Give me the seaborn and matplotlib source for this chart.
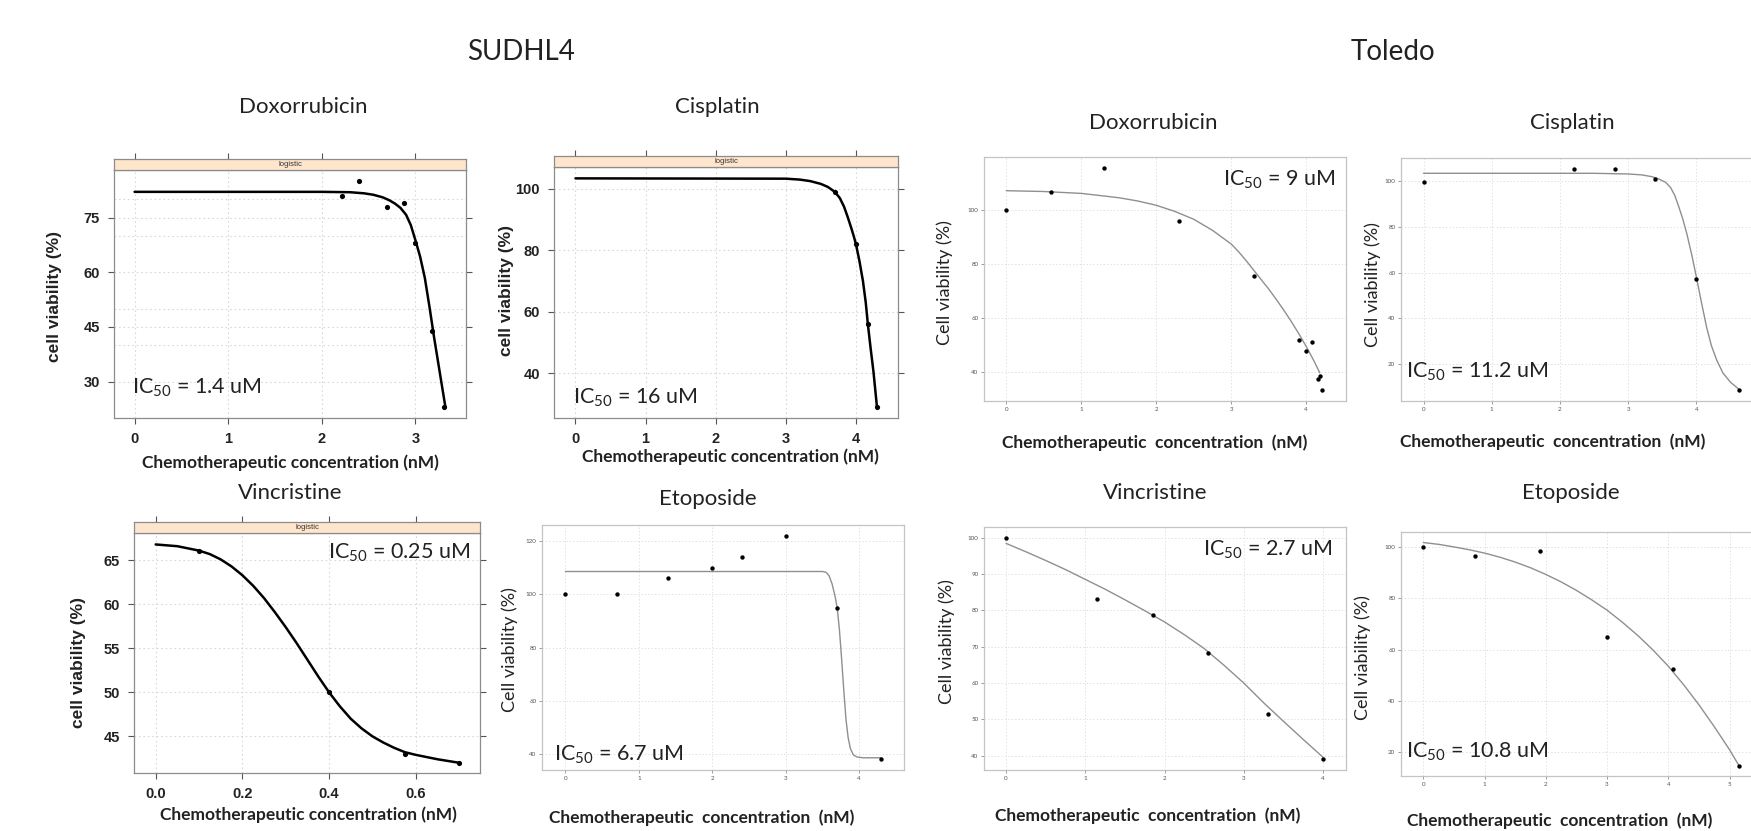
import matplotlib
matplotlib.use("Agg")
import matplotlib.pyplot as plt
from matplotlib.ticker import MultipleLocator
import seaborn as sns

# ---------------- values ----------------
cell_lines = ["SUDHL4", "Toledo"]

# SUDHL4 (lattice style plots)
sud_dox_x = [2.22, 2.40, 2.70, 2.88, 3.00, 3.18, 3.30]
sud_dox_y = [80.9, 85.0, 77.9, 79.0, 68.0, 44.0, 23.0]
sud_dox_fit_x = [0, 2.0, 2.3, 2.45, 2.55, 2.65, 2.72, 2.78, 2.84, 2.9, 2.95, 3.0, 3.05, 3.1, 3.15, 3.2, 3.26, 3.32]
sud_dox_fit_y = [82.1, 82.1, 82.0, 81.7, 81.3, 80.6, 79.8, 78.9, 77.7, 75.8, 73.0, 68.8, 64.3, 58.5, 50.5, 42.0, 32.5, 23.0]

sud_cis_x = [3.70, 4.00, 4.17, 4.30]
sud_cis_y = [98.9, 82.1, 56.0, 29.0]
sud_cis_fit_x = [0, 3.0, 3.2, 3.35, 3.5, 3.6, 3.7, 3.77, 3.83, 3.88, 3.93, 3.97, 4.0, 4.05, 4.1, 4.14, 4.17, 4.21, 4.25, 4.3]
sud_cis_fit_y = [103.4, 103.3, 103.0, 102.5, 101.6, 100.6, 99.0, 97.0, 94.2, 91.0, 87.5, 84.5, 82.0, 76.5, 70.0, 63.0, 56.0, 48.0, 40.5, 29.0]

sud_vin_x = [0.10, 0.40, 0.575, 0.70]
sud_vin_y = [66.1, 50.0, 43.0, 42.0]
sud_vin_fit_x = [0, 0.05, 0.1, 0.125, 0.15, 0.175, 0.2, 0.225, 0.25, 0.275, 0.3, 0.325, 0.35,
                 0.375, 0.4, 0.425, 0.45, 0.475, 0.5, 0.525, 0.55, 0.575, 0.6, 0.65, 0.7]
sud_vin_fit_y = [66.8, 66.6, 66.1, 65.7, 65.1, 64.3, 63.3, 62.1, 60.7, 59.1, 57.4, 55.6, 53.7,
                 51.8, 50.0, 48.4, 47.0, 45.9, 45.0, 44.3, 43.7, 43.2, 42.9, 42.4, 42.0]

sud_eto_x = [0, 0.7, 1.4, 2.0, 2.4, 3.0, 3.7, 4.3]
sud_eto_y = [100, 100, 106, 110, 113.9, 122, 95, 38]
sud_eto_fit_x = [0, 3.5, 3.55, 3.59, 3.63, 3.67, 3.7, 3.73, 3.76, 3.79, 3.82, 3.85, 3.88, 3.92, 3.97, 4.05, 4.3]
sud_eto_fit_y = [108.6, 108.6, 108.3, 107.0, 104.0, 99.5, 95.0, 87.0, 76.0, 64.0, 53.0, 46.0, 42.0, 39.6, 38.8, 38.5, 38.5]

# Toledo
tol_dox_x = [0, 0.6, 1.3, 2.3, 3.3, 3.9, 4.0, 4.08, 4.15, 4.18, 4.21]
tol_dox_y = [100, 106.8, 115.7, 96.2, 75.6, 52.0, 47.8, 51.3, 37.6, 38.5, 33.3]
tol_dox_fit_x = [0, 0.5, 1.0, 1.5, 1.75, 2.0, 2.25, 2.5, 2.75, 3.0, 3.1, 3.2, 3.3, 3.4, 3.5,
                 3.6, 3.7, 3.8, 3.9, 4.0, 4.1, 4.18]
tol_dox_fit_y = [107.3, 107.0, 106.3, 104.7, 103.5, 101.9, 99.6, 96.7, 92.6, 87.5, 84.6, 81.3, 77.8, 74.3, 70.8,
                 67.0, 63.0, 58.8, 54.3, 49.5, 44.3, 39.8]

tol_cis_x = [0, 2.2, 2.8, 3.4, 4.0, 4.62]
tol_cis_y = [99.9, 105.6, 105.2, 101.0, 57.4, 8.6]
tol_cis_fit_x = [0, 2.5, 3.0, 3.2, 3.35, 3.45, 3.55, 3.62, 3.68, 3.74, 3.8, 3.86, 3.93, 4.0,
                 4.07, 4.15, 4.22, 4.3, 4.39, 4.5, 4.62]
tol_cis_fit_y = [103.5, 103.5, 103.2, 102.8, 102.0, 101.0, 99.5, 97.3, 94.0, 89.0, 83.5, 77.0, 68.0, 58.0,
                 47.5, 36.0, 28.0, 21.5, 16.0, 12.0, 9.0]

tol_vin_x = [0, 1.15, 1.85, 2.55, 3.3, 4.0]
tol_vin_y = [100, 83.2, 78.8, 68.4, 51.4, 39.1]
tol_vin_fit_x = [0, 0.25, 0.5, 0.75, 1.0, 1.25, 1.5, 1.75, 2.0, 2.25, 2.5, 2.75, 3.0, 3.25, 3.5, 3.75, 4.0]
tol_vin_fit_y = [98.4, 96.1, 93.7, 91.2, 88.5, 85.8, 82.9, 79.9, 76.8, 73.3, 69.5, 64.9, 60.0, 54.6, 49.5, 44.5, 39.6]

tol_eto_x = [0, 0.84, 1.9, 3.0, 4.08, 5.15]
tol_eto_y = [100, 96.4, 98.4, 65.0, 52.6, 14.8]
tol_eto_fit_x = [0, 0.25, 0.5, 0.75, 1.0, 1.25, 1.5, 1.75, 2.0, 2.25, 2.5, 2.75, 3.0, 3.25, 3.5,
                 3.75, 4.0, 4.25, 4.5, 4.75, 5.0, 5.15]
tol_eto_fit_y = [101.6, 100.9, 99.9, 98.8, 97.5, 95.9, 94.0, 91.8, 89.2, 86.3, 83.0, 79.3, 75.3, 70.6, 65.5,
                 59.8, 53.5, 46.3, 38.5, 30.0, 21.0, 15.0]

ic50_values = ["1.4", "16", "0.25", "6.7", "9", "11.2", "2.7", "10.8"]

# ---------------- style ----------------
sns.set_theme(style="white")
plt.rcParams["font.family"] = ["Lato", "DejaVu Sans"]
plt.rcParams["mathtext.fontset"] = "custom"
plt.rcParams["mathtext.rm"] = "Lato"
plt.rcParams["mathtext.it"] = "Lato:italic"
plt.rcParams["mathtext.bf"] = "Lato:bold"

W, H = 1751, 831
fig = plt.figure(figsize=(W / 100, H / 100), dpi=100)
TXT = "#222222"


def rect(l, t, r, b):
    return [l / W, 1 - b / H, (r - l) / W, (b - t) / H]


# layout: box (px), strip top, limits, ticks, label positions (px)
panels = [
    dict(pts=(sud_dox_x, sud_dox_y), fit=(sud_dox_fit_x, sud_dox_fit_y), title="Doxorrubicin",
         box=(114, 170, 466, 418), strip=159, xlim=(-0.22, 3.54), ylim=(20.0, 88.1),
         xt=[0, 1, 2, 3], yt=[30, 45, 60, 75], ygrid=10, style="lattice",
         title_at=(303, 107), xl_at=(290, 463), yl_at=(55, 297), ic_at=(132, 388)),
    dict(pts=(sud_cis_x, sud_cis_y), fit=(sud_cis_fit_x, sud_cis_fit_y), title="Cisplatin",
         box=(554, 167, 898, 418), strip=156, xlim=(-0.306, 4.6), ylim=(25.4, 107.1),
         xt=[0, 1, 2, 3, 4], yt=[40, 60, 80, 100], ygrid=None, style="lattice",
         title_at=(717, 107), xl_at=(730, 457), yl_at=(507, 290), ic_at=(573, 398)),
    dict(pts=(sud_vin_x, sud_vin_y), fit=(sud_vin_fit_x, sud_vin_fit_y), title="Vincristine",
         box=(134, 533, 480, 773), strip=522, xlim=(-0.05, 0.748), ylim=(40.84, 68.1),
         xt=[0.0, 0.2, 0.4, 0.6], yt=[45, 50, 55, 60, 65], ygrid=None, style="lattice",
         title_at=(290, 493), xl_at=(308, 815), yl_at=(78, 663), ic_at=(328, 553)),
    dict(pts=(sud_eto_x, sud_eto_y), fit=(sud_eto_fit_x, sud_eto_fit_y), title="Etoposide",
         box=(542, 525, 904, 770), strip=None, xlim=(-0.318, 4.61), ylim=(33.9, 126.1),
         xt=[0, 1, 2, 3, 4], yt=[40, 60, 80, 100, 120], style="gg",
         title_at=(708, 499), xl_at=(702, 818), yl_at=(510, 650), ic_at=(554, 755)),
    dict(pts=(tol_dox_x, tol_dox_y), fit=(tol_dox_fit_x, tol_dox_fit_y), title="Doxorrubicin",
         box=(984, 157, 1346, 401), strip=None, xlim=(-0.297, 4.53), ylim=(29.3, 119.8),
         xt=[0, 1, 2, 3, 4], yt=[40, 60, 80, 100], style="gg",
         title_at=(1153, 123), xl_at=(1155, 443), yl_at=(945, 283), ic_at=(1223, 180)),
    dict(pts=(tol_cis_x, tol_cis_y), fit=(tol_cis_fit_x, tol_cis_fit_y), title="Cisplatin",
         box=(1401, 158, 1751, 401), strip=None, xlim=(-0.33, 4.80), ylim=(3.8, 110.2),
         xt=[0, 1, 2, 3, 4], yt=[20, 40, 60, 80, 100], style="gg", open_right=True,
         title_at=(1572, 123), xl_at=(1553, 442), yl_at=(1373, 285), ic_at=(1406, 372)),
    dict(pts=(tol_vin_x, tol_vin_y), fit=(tol_vin_fit_x, tol_vin_fit_y), title="Vincristine",
         box=(984, 527, 1346, 770), strip=None, xlim=(-0.278, 4.29), ylim=(36.1, 102.9),
         xt=[0, 1, 2, 3, 4], yt=[40, 50, 60, 70, 80, 90, 100], style="gg",
         title_at=(1155, 493), xl_at=(1148, 816), yl_at=(947, 642), ic_at=(1203, 550)),
    dict(pts=(tol_eto_x, tol_eto_y), fit=(tol_eto_fit_x, tol_eto_fit_y), title="Etoposide",
         box=(1401, 532, 1751, 776), strip=None, xlim=(-0.364, 5.35), ylim=(10.8, 105.7),
         xt=[0, 1, 2, 3, 4, 5], yt=[20, 40, 60, 80, 100], style="gg", open_right=True,
         title_at=(1571, 493), xl_at=(1560, 821), yl_at=(1363, 658), ic_at=(1406, 752)),
]

for p, ic in zip(panels, ic50_values):
    l, t, r, b = p["box"]
    ax = fig.add_axes(rect(l, t, r, b))
    lattice = p["style"] == "lattice"

    sns.lineplot(x=p["fit"][0], y=p["fit"][1], ax=ax, estimator=None, sort=False,
                 color="black" if lattice else "#8f8f8f", lw=1.8 if lattice else 1.0, zorder=3)
    sns.scatterplot(x=p["pts"][0], y=p["pts"][1], ax=ax, color="black",
                    s=14 if lattice else 10, linewidth=0, zorder=4)

    ax.set_xlim(*p["xlim"])
    ax.set_ylim(*p["ylim"])
    ax.set_xticks(p["xt"])
    ax.set_yticks(p["yt"])

    if lattice:
        xfmt = ["%.1f" % v for v in p["xt"]] if p["xt"][1] < 1 else [str(v) for v in p["xt"]]
        ax.set_xticklabels(xfmt, fontweight="bold", family="Liberation Sans", color=TXT)
        ax.set_yticklabels([str(v) for v in p["yt"]], fontweight="bold", family="Liberation Sans", color=TXT)
        ax.tick_params(axis="both", direction="out", length=4, width=0.8, colors="#555555",
                       labelsize=10.5, right=True, labelright=False, bottom=True, left=True, pad=6)
        for lbl in ax.get_xticklabels() + ax.get_yticklabels():
            lbl.set_color(TXT)
        if p.get("ygrid"):
            ax.yaxis.set_minor_locator(MultipleLocator(p["ygrid"]))
        ax.grid(True, which="both", color="#d9d9d9", linestyle=(0, (1.5, 2.5)), lw=0.8)
        for s in ax.spines.values():
            s.set_color("#8c8c8c")
            s.set_linewidth(0.9)
        # strip on top
        st = fig.add_axes(rect(l, p["strip"], r, t))
        st.set_facecolor("#FFE5CC")
        st.set_xlim(*p["xlim"])
        st.set_xticks(p["xt"])
        st.set_yticks([])
        st.tick_params(axis="x", top=True, bottom=False, labelbottom=False, labeltop=False,
                       direction="out", length=4, width=0.8, colors="#555555")
        for s in st.spines.values():
            s.set_color("#8c8c8c")
            s.set_linewidth(0.9)
        st.text(0.5, 0.5, "logistic", transform=st.transAxes, ha="center", va="center",
                fontsize=5.5, color="#333333", family="Liberation Sans")
        xlab = "Chemotherapeutic concentration (nM)"
        ax.set_ylabel("cell viability (%)", fontsize=12.5, fontweight="bold",
                      family="Liberation Sans", color=TXT, va="center")
    else:
        ax.set_xticklabels([str(v) for v in p["xt"]])
        ax.set_yticklabels([str(v) for v in p["yt"]])
        ax.tick_params(axis="both", direction="out", length=2, width=0.6, colors="#8a8a8a",
                       labelsize=4.5, labelcolor="#555555", bottom=True, left=True, pad=2)
        ax.grid(True, color="#e2e2e2", linestyle=(0, (1.5, 2)), lw=0.7)
        for s in ax.spines.values():
            s.set_color("#c4c4c4")
            s.set_linewidth(0.9)
        if p.get("open_right"):
            ax.spines["right"].set_visible(False)
        xlab = "Chemotherapeutic  concentration  (nM)"
        ax.set_ylabel("Cell viability (%)", fontsize=13, color=TXT, va="center")

    ax.set_xlabel(xlab, fontsize=12.5, fontweight="bold", color=TXT, va="center")
    ax.xaxis.set_label_coords((p["xl_at"][0] - l) / (r - l), (b - p["xl_at"][1]) / (b - t))
    ax.yaxis.set_label_coords((p["yl_at"][0] - l) / (r - l), (b - p["yl_at"][1]) / (b - t))

    fig.text(p["title_at"][0] / W, 1 - p["title_at"][1] / H, p["title"], fontsize=16,
             ha="center", va="center", color=TXT)
    fig.text(p["ic_at"][0] / W, 1 - p["ic_at"][1] / H, r"IC$_{\mathrm{50}}$ = " + ic + " uM",
             fontsize=15.5, ha="left", va="center", color=TXT)

fig.text(521 / W, 1 - 52 / H, cell_lines[0], fontsize=20, ha="center", va="center", color=TXT)
fig.text(1393 / W, 1 - 52 / H, cell_lines[1], fontsize=20, ha="center", va="center", color=TXT)

fig.savefig("out.png", dpi=100)
